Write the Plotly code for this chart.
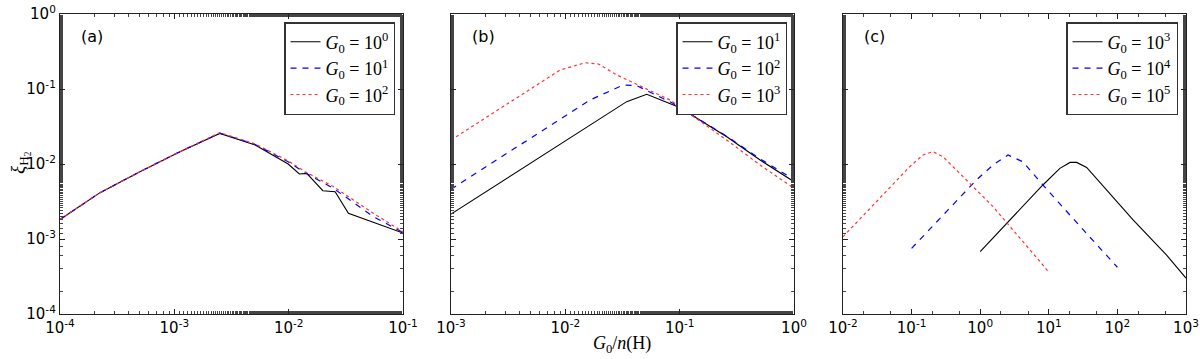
import plotly.graph_objects as go

# panel (a): G0 = 1, 10, 100
a_x_k = [1e-4, 2.24e-4, 5e-4, 1.12e-3, 2.5e-3, 5.1e-3, 9.9e-3, 0.0124, 0.0144, 0.0199, 0.0255, 0.0333, 0.1]
a_y_k = [1.82e-3, 4.15e-3, 7.9e-3, 0.0146, 0.0256, 0.0179, 0.0100, 7.36e-3, 7.5e-3, 4.4e-3, 4.27e-3, 2.2e-3, 1.2e-3]
a_x_br = [1e-4, 2.24e-4, 5e-4, 1.12e-3, 2.5e-3, 5.1e-3, 9.9e-3, 0.0139, 0.0246, 0.055, 0.1]
a_y_b = [1.82e-3, 4.15e-3, 7.9e-3, 0.0146, 0.0258, 0.0182, 0.0107, 7.66e-3, 4.74e-3, 1.99e-3, 1.22e-3]
a_y_r = [1.82e-3, 4.15e-3, 7.9e-3, 0.0146, 0.0262, 0.0185, 0.0110, 7.9e-3, 5.0e-3, 2.2e-3, 1.25e-3]

# panel (b): G0 = 10, 100, 1000
b_x_k = [1e-3, 0.0139, 0.0344, 0.0515, 0.1, 0.258, 0.505, 1.0]
b_y_k = [2.15e-3, 0.0284, 0.0678, 0.0849, 0.0565, 0.0231, 0.0113, 5.8e-3]
b_x_b = [1e-3, 7.35e-3, 0.0164, 0.0321, 0.042, 0.088, 0.258, 0.505, 1.0]
b_y_b = [4.6e-3, 0.0331, 0.0713, 0.113, 0.111, 0.0640, 0.0235, 0.0117, 6.2e-3]
b_x_r = [1e-3, 6e-3, 9e-3, 0.0149, 0.0195, 0.0282, 0.0451, 0.0824, 0.258, 0.505, 1.0]
b_y_r = [0.0209, 0.119, 0.179, 0.224, 0.215, 0.154, 0.110, 0.0713, 0.0209, 9.7e-3, 4.74e-3]

# panel (c): G0 = 1e3, 1e4, 1e5
c_x_k = [1, 8.2, 14.5, 20.4, 25.5, 35.6, 170.6, 522, 1000]
c_y_k = [6.8e-4, 5.25e-3, 8.75e-3, 0.0105, 0.0105, 9.0e-3, 1.79e-3, 6.1e-4, 3.0e-4]
c_x_b = [0.1, 0.877, 1.54, 2.54, 4.2, 7.45, 31.9, 100]
c_y_b = [7.5e-4, 6.1e-3, 9.7e-3, 0.0132, 0.0107, 5.8e-3, 1.32e-3, 4.2e-4]
c_x_r = [0.01, 0.0306, 0.0937, 0.147, 0.205, 0.287, 0.502, 1.54, 8.2, 10]
c_y_r = [1.07e-3, 3.15e-3, 9.2e-3, 0.0132, 0.0146, 0.0125, 7.5e-3, 2.7e-3, 4.5e-4, 3.6e-4]

a_labels = ['0', '1', '2']
b_labels = ['1', '2', '3']
c_labels = ['3', '4', '5']

y_exps = [-4, -3, -2, -1, 0]
a_x_exps = [-4, -3, -2, -1]
b_x_exps = [-3, -2, -1, 0]
c_x_exps = [-2, -1, 0, 1, 2, 3]

W, H = 1200, 359
BLACK = '#000000'
BLUE = '#0000ff'
RED = '#ff3333'
SERIF = 'Liberation Serif'
SANS = 'DejaVu Sans'


def leg_name(e):
    return '<i>G</i><sub>0</sub> = 10<sup>%s</sup>' % e


def tick_text(exps):
    return ['10<sup>%d</sup>' % e for e in exps]


fig = go.Figure()

panels = [
    ('x', 'y', 'legend', a_labels,
     [(a_x_k, a_y_k), (a_x_br, a_y_b), (a_x_br, a_y_r)]),
    ('x2', 'y2', 'legend2', b_labels,
     [(b_x_k, b_y_k), (b_x_b, b_y_b), (b_x_r, b_y_r)]),
    ('x3', 'y3', 'legend3', c_labels,
     [(c_x_k, c_y_k), (c_x_b, c_y_b), (c_x_r, c_y_r)]),
]
styles = [dict(color=BLACK, width=1.1, dash='solid'),
          dict(color=BLUE, width=1.2, dash='6px,6px'),
          dict(color=RED, width=1.2, dash='dot')]

for xa, ya, lg, labels, series in panels:
    for (xs, ys), st, lab in zip(series, styles, labels):
        fig.add_trace(go.Scatter(
            x=xs, y=ys, mode='lines', line=st, name=leg_name(lab),
            xaxis=xa, yaxis=ya, legend=lg
        ))

# plot-area positions (pixels)
px_left = [60, 451, 843]
px_right = [403, 794, 1186]
top_px, bot_px = 14, 314
ydom = [(H - bot_px) / H, (H - top_px) / H]

axis_common = dict(
    type='log', showgrid=False, zeroline=False, automargin=False,
    showline=True, linecolor='#222', linewidth=1.3, mirror='allticks',
    ticks='inside', ticklen=5, tickcolor='#222', tickwidth=1,
    minor=dict(ticks='inside', ticklen=2.5, tickcolor='#444', showgrid=False),
    tickfont=dict(family=SANS, size=15, color='black'),
)

x_exps_all = [a_x_exps, b_x_exps, c_x_exps]
for i in range(3):
    sfx = '' if i == 0 else str(i + 1)
    dom = [px_left[i] / W, px_right[i] / W]
    ex = x_exps_all[i]
    fig.layout['xaxis' + sfx] = dict(
        axis_common, domain=dom, anchor='y' + sfx,
        range=[ex[0], ex[-1]],
        tickvals=[10 ** e for e in ex], ticktext=tick_text(ex),
    )
    fig.layout['yaxis' + sfx] = dict(
        axis_common, domain=ydom, anchor='x' + sfx,
        range=[-4, 0],
        tickvals=[10 ** e for e in y_exps], ticktext=tick_text(y_exps),
        showticklabels=(i == 0),
    )

legend_style = dict(
    bgcolor='white', bordercolor='#333', borderwidth=1.5,
    font=dict(family=SERIF, size=18, color='black'),
    xanchor='right', yanchor='top', y=(H - 22) / H,
    tracegroupgap=0, itemwidth=30,
)
fig.update_layout(
    legend=dict(legend_style, x=395 / W),
    legend2=dict(legend_style, x=787 / W),
    legend3=dict(legend_style, x=1178 / W),
)

annotations = []
for i, lab in enumerate(['(a)', '(b)', '(c)']):
    annotations.append(dict(
        text=lab, x=(px_left[i] + 19) / W, y=(H - 36) / H,
        xref='paper', yref='paper', xanchor='left', yanchor='middle',
        showarrow=False, font=dict(family=SANS, size=16, color='black')
    ))
annotations.append(dict(
    text='<i>G</i><sub>0</sub>/<i>n</i>(H)', x=622 / W, y=(H - 344) / H,
    xref='paper', yref='paper', xanchor='center', yanchor='middle',
    showarrow=False, font=dict(family=SERIF, size=18, color='black')
))
annotations.append(dict(
    text='<i>ξ</i><sub>H<sub>2</sub></sub>', x=20 / W, y=(H - 163) / H,
    xref='paper', yref='paper', xanchor='center', yanchor='middle',
    textangle=-90, showarrow=False,
    font=dict(family=SERIF, size=19, color='black')
))

fig.update_layout(
    width=W, height=H,
    margin=dict(l=0, r=0, t=0, b=0, autoexpand=False),
    paper_bgcolor='white', plot_bgcolor='white',
    showlegend=True,
    annotations=annotations,
)

fig.write_html("out.html", config={'displayModeBar': False},
               post_script="document.body.style.margin='0';")
